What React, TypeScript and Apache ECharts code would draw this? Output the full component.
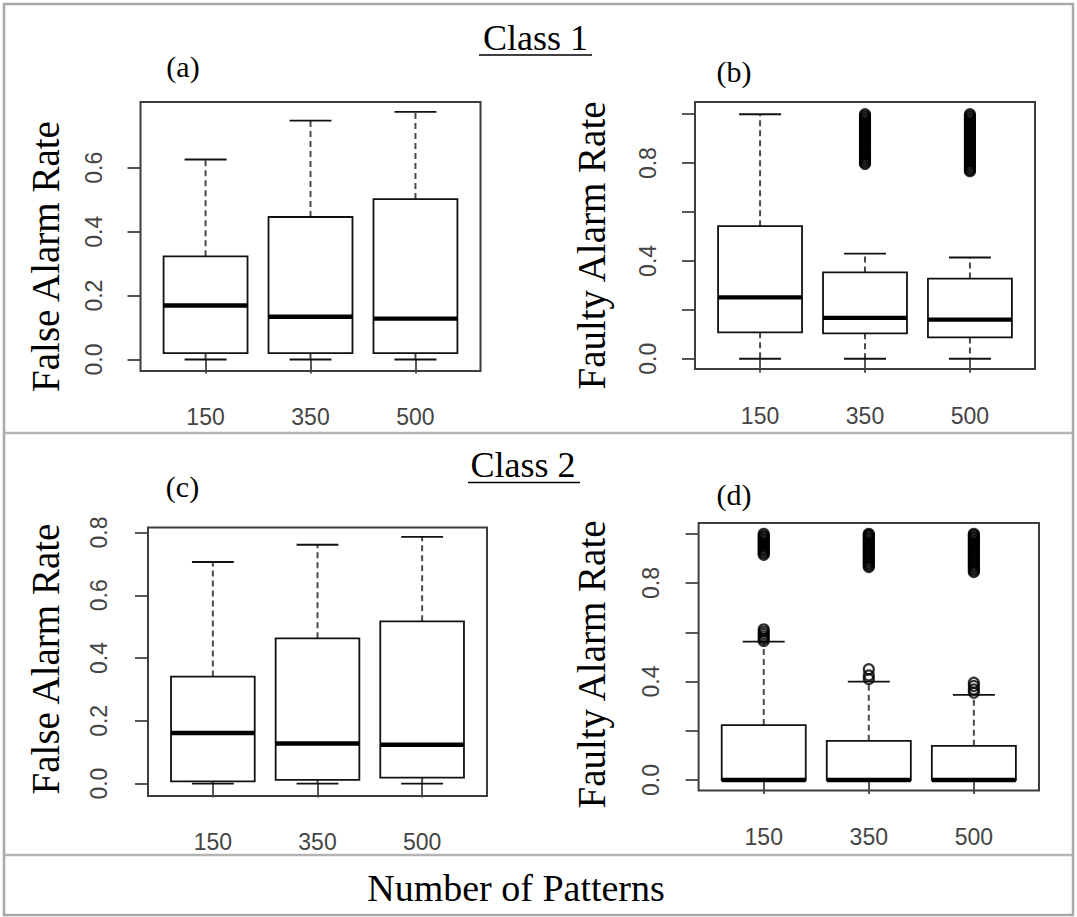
import React, { useEffect, useRef } from 'react';
import * as echarts from 'echarts';

// ---------- data ----------
const categories = ['150', '350', '500'];
const xPositions = [1, 2, 3];

// each row: [lower whisker, Q1, median, Q3, upper whisker]
const statsA = [
  [0, 0.02, 0.169, 0.323, 0.626],
  [0, 0.02, 0.134, 0.446, 0.748],
  [0, 0.02, 0.128, 0.502, 0.775],
];
const statsB = [
  [0, 0.108, 0.251, 0.542, 1.0],
  [0, 0.104, 0.167, 0.353, 0.43],
  [0, 0.087, 0.16, 0.328, 0.414],
];
const statsC = [
  [0, 0.007, 0.161, 0.341, 0.706],
  [0, 0.012, 0.128, 0.463, 0.761],
  [0, 0.019, 0.124, 0.517, 0.786],
];
const statsD = [
  [0, 0, 0, 0.223, 0.562],
  [0, 0, 0, 0.159, 0.4],
  [0, 0, 0, 0.139, 0.346],
];

// outliers per category
const outliersA150: number[] = [];
const outliersA350: number[] = [];
const outliersA500: number[] = [];
const outliersB150: number[] = [];
const outliersB350 = [0.797, 0.802, 0.808, 0.814, 0.82, 0.826, 0.832, 0.838, 0.844, 0.85, 0.856, 0.862, 0.868, 0.874, 0.88, 0.886, 0.892, 0.898, 0.904, 0.91, 0.916, 0.922, 0.928, 0.934, 0.94, 0.946, 0.952, 0.958, 0.964, 0.97, 0.976, 0.982, 0.988, 0.994, 1.0];
const outliersB500 = [0.767, 0.772, 0.778, 0.784, 0.79, 0.796, 0.802, 0.808, 0.814, 0.82, 0.826, 0.832, 0.838, 0.844, 0.85, 0.856, 0.862, 0.868, 0.874, 0.88, 0.886, 0.892, 0.898, 0.904, 0.91, 0.916, 0.922, 0.928, 0.934, 0.94, 0.946, 0.952, 0.958, 0.964, 0.97, 0.976, 0.982, 0.988, 0.994, 1.0];
const outliersC150: number[] = [];
const outliersC350: number[] = [];
const outliersC500: number[] = [];
const outliersD150 = [0.565, 0.574, 0.583, 0.593, 0.603, 0.612, 0.915, 0.921, 0.927, 0.933, 0.939, 0.945, 0.951, 0.957, 0.963, 0.969, 0.975, 0.981, 0.987, 0.993, 1.0];
const outliersD350 = [0.41, 0.425, 0.45, 0.865, 0.871, 0.877, 0.883, 0.889, 0.895, 0.901, 0.907, 0.913, 0.919, 0.925, 0.931, 0.937, 0.943, 0.949, 0.955, 0.961, 0.967, 0.973, 0.979, 0.985, 0.991, 0.996, 1.0];
const outliersD500 = [0.355, 0.368, 0.382, 0.395, 0.845, 0.851, 0.857, 0.863, 0.869, 0.875, 0.881, 0.887, 0.893, 0.899, 0.905, 0.911, 0.917, 0.923, 0.929, 0.935, 0.941, 0.947, 0.953, 0.959, 0.965, 0.971, 0.977, 0.983, 0.989, 0.995, 1.0];

const yTicksA = [0, 0.2, 0.4, 0.6];
const yLabelsA = [0, 0.2, 0.4, 0.6];
const yTicksB = [0, 0.2, 0.4, 0.6, 0.8, 1.0];
const yLabelsB = [0, 0.4, 0.8];
const yTicksC = [0, 0.2, 0.4, 0.6, 0.8];
const yLabelsC = [0, 0.2, 0.4, 0.6, 0.8];
const yTicksD = [0, 0.2, 0.4, 0.6, 0.8, 1.0];
const yLabelsD = [0, 0.4, 0.8];

const panelLetters = ['(a)', '(b)', '(c)', '(d)'];
const yTitles = ['False Alarm Rate', 'Faulty Alarm Rate', 'False Alarm Rate', 'Faulty Alarm Rate'];
const classTitles = ['Class 1', 'Class 2'];
const xTitle = 'Number of Patterns';

// ---------- layout ----------
const panels = [
  { grid: { left: 140.5, top: 102, width: 340, height: 269 }, yMin: -0.036, yMax: 0.806, ticks: yTicksA, labels: yLabelsA, stats: statsA, outliers: [outliersA150, outliersA350, outliersA500], yMargin: 35, xMargin: 34 },
  { grid: { left: 695, top: 102, width: 340, height: 267 }, yMin: -0.042, yMax: 1.05, ticks: yTicksB, labels: yLabelsB, stats: statsB, outliers: [outliersB150, outliersB350, outliersB500], yMargin: 36, xMargin: 35 },
  { grid: { left: 148, top: 527.5, width: 339, height: 268.5 }, yMin: -0.0395, yMax: 0.816, ticks: yTicksC, labels: yLabelsC, stats: statsC, outliers: [outliersC150, outliersC350, outliersC500], yMargin: 38, xMargin: 34 },
  { grid: { left: 698.6, top: 523, width: 340.4, height: 267.6 }, yMin: -0.043, yMax: 1.044, ticks: yTicksD, labels: yLabelsD, stats: statsD, outliers: [outliersD150, outliersD350, outliersD500], yMargin: 36, xMargin: 35 },
];

const letterPos = [[183, 66], [734, 71], [182.5, 486], [734, 494]];
const yTitlePos = [[45, 256.5], [591.5, 245.5], [45, 659], [591.5, 664.5]];

const SERIF = "'Liberation Serif', 'Times New Roman', serif";
const SANS = "'Liberation Sans', Arial, sans-serif";
const TICK_COLOR = '#444';

function renderBox(params: any, api: any) {
  const x = api.value(0);
  const low = api.coord([x, api.value(1)]);
  const q1 = api.coord([x, api.value(2)]);
  const med = api.coord([x, api.value(3)]);
  const q3 = api.coord([x, api.value(4)]);
  const high = api.coord([x, api.value(5)]);
  const half = api.size([0.4, 0])[0];
  const cap = api.size([0.2, 0])[0];
  const cx = low[0];
  const whisk = { stroke: '#4a4a4a', lineWidth: 2, lineDash: [6, 4] };
  const solid = { stroke: '#111', lineWidth: 1.8 };
  return {
    type: 'group',
    children: [
      { type: 'line', shape: { x1: cx, y1: q3[1], x2: cx, y2: high[1] }, style: whisk },
      { type: 'line', shape: { x1: cx, y1: q1[1], x2: cx, y2: low[1] }, style: whisk },
      { type: 'line', shape: { x1: cx - cap, y1: high[1], x2: cx + cap, y2: high[1] }, style: solid },
      { type: 'line', shape: { x1: cx - cap, y1: low[1], x2: cx + cap, y2: low[1] }, style: solid },
      { type: 'rect', shape: { x: cx - half, y: q3[1], width: half * 2, height: q1[1] - q3[1] }, style: { fill: '#fff', stroke: '#111', lineWidth: 1.8 } },
      { type: 'line', shape: { x1: cx - half, y1: med[1], x2: cx + half, y2: med[1] }, style: { stroke: '#000', lineWidth: 4.4 } },
    ],
  };
}

function text(t: string, x: number, y: number, size: number, rotation = 0) {
  return {
    type: 'text',
    x,
    y,
    rotation,
    silent: true,
    style: {
      text: t,
      fontSize: size,
      fontFamily: SERIF,
      fill: '#000',
      align: 'center',
      verticalAlign: 'middle',
      textAlign: 'center',
      textVerticalAlign: 'middle',
    },
  };
}

function buildOption() {
  const grid: any[] = [];
  const xAxis: any[] = [];
  const yAxis: any[] = [];
  const series: any[] = [];
  panels.forEach((p, i) => {
    grid.push({ ...p.grid, show: true, borderColor: '#3c3c3c', borderWidth: 2, backgroundColor: 'transparent' });
    xAxis.push({
      type: 'value', gridIndex: i, min: 0.38, max: 3.62,
      axisLine: { show: false }, splitLine: { show: false },
      axisTick: { show: true, customValues: xPositions, length: 14, lineStyle: { color: TICK_COLOR, width: 1.8 } },
      axisLabel: { show: true, customValues: xPositions, formatter: (v: number) => categories[Math.round(v) - 1], fontSize: 23, fontFamily: SANS, color: TICK_COLOR, margin: p.xMargin },
    });
    yAxis.push({
      type: 'value', gridIndex: i, min: p.yMin, max: p.yMax,
      axisLine: { show: false }, splitLine: { show: false },
      axisTick: { show: true, customValues: p.ticks, length: 13, lineStyle: { color: TICK_COLOR, width: 1.8 } },
      axisLabel: { show: true, customValues: p.labels, rotate: 90, formatter: (v: number) => v.toFixed(1), fontSize: 23, fontFamily: SANS, color: TICK_COLOR, margin: p.yMargin },
    });
    series.push({
      type: 'custom', xAxisIndex: i, yAxisIndex: i, silent: true,
      data: p.stats.map((s, k) => [xPositions[k], ...s]),
      encode: { x: 0, y: [1, 2, 3, 4, 5] },
      renderItem: renderBox,
      z: 2,
    });
    series.push({
      type: 'scatter', xAxisIndex: i, yAxisIndex: i, silent: true,
      data: p.outliers.flatMap((arr, k) => arr.map((v) => [xPositions[k], v])),
      symbol: 'circle', symbolSize: 10,
      itemStyle: { color: 'rgba(255,255,255,0)', borderColor: '#000', borderWidth: 2.2 },
      z: 3,
    });
  });

  const elements: any[] = [
    { type: 'rect', shape: { x: 4, y: 4, width: 1069, height: 911 }, style: { fill: 'none', stroke: '#a9a9a9', lineWidth: 2.5 }, silent: true },
    { type: 'line', shape: { x1: 4, y1: 433, x2: 1073, y2: 433 }, style: { stroke: '#b3b3b3', lineWidth: 2.5 }, silent: true },
    { type: 'line', shape: { x1: 4, y1: 855, x2: 1073, y2: 855 }, style: { stroke: '#b3b3b3', lineWidth: 2.5 }, silent: true },
    text(classTitles[0], 535.5, 37.5, 36),
    { type: 'line', shape: { x1: 479, y1: 55, x2: 592, y2: 55 }, style: { stroke: '#000', lineWidth: 1.6 }, silent: true },
    text(classTitles[1], 523, 465, 36),
    { type: 'line', shape: { x1: 468, y1: 482.5, x2: 580, y2: 482.5 }, style: { stroke: '#000', lineWidth: 1.6 }, silent: true },
    text(xTitle, 516, 887.5, 38),
  ];
  panelLetters.forEach((l, i) => elements.push(text(l, letterPos[i][0], letterPos[i][1], 30)));
  yTitles.forEach((t, i) => elements.push(text(t, yTitlePos[i][0], yTitlePos[i][1], 39, Math.PI / 2)));

  return {
    animation: false,
    backgroundColor: '#fff',
    grid,
    xAxis,
    yAxis,
    series,
    graphic: { elements },
  };
}

export default function App() {
  const ref = useRef<HTMLDivElement>(null);
  useEffect(() => {
    document.body.style.margin = '0';
    if (!ref.current) return;
    const chart = echarts.init(ref.current, undefined, { renderer: 'svg' });
    chart.setOption(buildOption() as any);
    return () => chart.dispose();
  }, []);
  return <div ref={ref} style={{ position: 'absolute', left: 0, top: 0, width: 1077, height: 917 }} />;
}
